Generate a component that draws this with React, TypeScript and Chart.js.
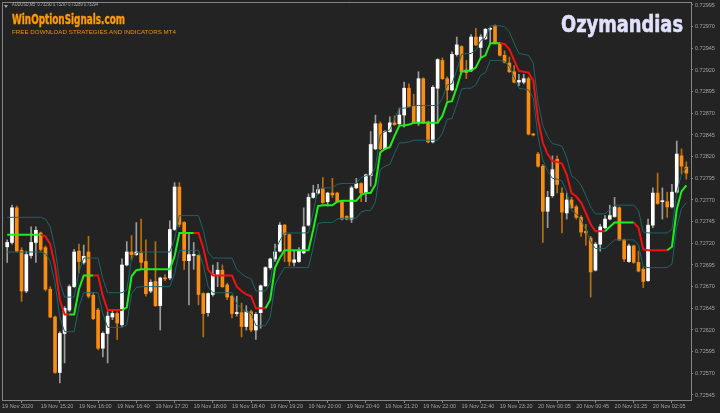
import React, { useEffect, useLayoutEffect, useRef } from 'react';
import { Chart, registerables } from 'chart.js';

Chart.register(...registerables);

// ---- candle data (AUDUSD M5) ----
const openPrices = [
  0.72716,0.72721,0.72761,0.72712,0.72665,0.72706,0.72721,0.72732,0.72715,0.72667,
  0.72635,0.72571,0.72616,0.72643,0.72670,0.72711,0.72698,0.72710,0.72660,0.72643,
  0.72599,0.72616,0.72635,0.72639,0.72626,0.72695,0.72710,0.72707,0.72709,0.72699,
  0.72665,0.72676,0.72648,0.72680,0.72680,0.72736,0.72785,0.72744,0.72700,0.72706,
  0.72706,0.72662,0.72640,0.72661,0.72684,0.72689,0.72672,0.72659,0.72639,0.72640,
  0.72624,0.72641,0.72620,0.72640,0.72671,0.72692,0.72702,0.72711,0.72741,0.72730,
  0.72698,0.72699,0.72709,0.72741,0.72773,0.72778,0.72783,0.72768,0.72778,0.72778,
  0.72768,0.72751,0.72748,0.72784,0.72789,0.72778,0.72798,0.72829,0.72858,0.72829,
  0.72849,0.72859,0.72858,0.72868,0.72899,0.72878,0.72859,0.72910,0.72860,0.72837,
  0.72899,0.72931,0.72910,0.72897,0.72938,0.72947,0.72920,0.72919,0.72958,0.72946,
  0.72956,0.72967,0.72971,0.72951,0.72937,0.72928,0.72918,0.72906,0.72906,0.72910,
  0.72846,0.72823,0.72809,0.72757,0.72775,0.72817,0.72778,0.72755,0.72770,0.72762,
  0.72750,0.72734,0.72726,0.72689,0.72719,0.72738,0.72748,0.72751,0.72761,0.72724,
  0.72699,0.72717,0.72698,0.72690,0.72677,0.72741,0.72778,0.72768,0.72768,0.72762,
  0.72779,0.72821,0.72808,
];
const highPrices = [
  0.72724,0.72764,0.72763,0.72715,0.72711,0.72739,0.72739,0.72733,0.72717,0.72670,
  0.72636,0.72618,0.72647,0.72672,0.72713,0.72719,0.72718,0.72728,0.72663,0.72645,
  0.72618,0.72641,0.72643,0.72641,0.72702,0.72722,0.72729,0.72744,0.72748,0.72724,
  0.72678,0.72722,0.72681,0.72684,0.72746,0.72790,0.72790,0.72745,0.72732,0.72721,
  0.72707,0.72663,0.72663,0.72695,0.72698,0.72695,0.72674,0.72660,0.72659,0.72651,
  0.72648,0.72643,0.72640,0.72672,0.72693,0.72703,0.72719,0.72744,0.72742,0.72731,
  0.72711,0.72715,0.72761,0.72777,0.72787,0.72788,0.72796,0.72779,0.72795,0.72779,
  0.72769,0.72752,0.72786,0.72795,0.72790,0.72800,0.72849,0.72868,0.72860,0.72850,
  0.72866,0.72867,0.72876,0.72906,0.72904,0.72892,0.72918,0.72911,0.72861,0.72902,
  0.72933,0.72934,0.72912,0.72941,0.72958,0.72948,0.72931,0.72961,0.72968,0.72961,
  0.72968,0.72969,0.72972,0.72952,0.72942,0.72935,0.72925,0.72915,0.72915,0.72912,
  0.72847,0.72825,0.72811,0.72780,0.72821,0.72821,0.72784,0.72778,0.72773,0.72764,
  0.72752,0.72742,0.72728,0.72721,0.72742,0.72752,0.72764,0.72773,0.72762,0.72725,
  0.72719,0.72718,0.72711,0.72692,0.72748,0.72784,0.72801,0.72784,0.72779,0.72788,
  0.72838,0.72829,0.72814,
];
const lowPrices = [
  0.72698,0.72719,0.72710,0.72653,0.72663,0.72703,0.72698,0.72711,0.72665,0.72634,
  0.72570,0.72559,0.72582,0.72641,0.72669,0.72686,0.72696,0.72657,0.72632,0.72597,
  0.72589,0.72582,0.72632,0.72609,0.72624,0.72694,0.72701,0.72706,0.72690,0.72659,
  0.72663,0.72647,0.72620,0.72677,0.72678,0.72735,0.72739,0.72690,0.72649,0.72690,
  0.72649,0.72612,0.72636,0.72659,0.72670,0.72669,0.72655,0.72634,0.72636,0.72612,
  0.72620,0.72618,0.72609,0.72622,0.72670,0.72690,0.72699,0.72710,0.72699,0.72694,
  0.72694,0.72698,0.72708,0.72740,0.72772,0.72777,0.72766,0.72763,0.72773,0.72767,
  0.72747,0.72747,0.72744,0.72783,0.72768,0.72768,0.72786,0.72828,0.72828,0.72828,
  0.72848,0.72856,0.72856,0.72854,0.72877,0.72858,0.72856,0.72858,0.72836,0.72836,
  0.72859,0.72909,0.72885,0.72896,0.72936,0.72917,0.72910,0.72918,0.72948,0.72935,
  0.72955,0.72950,0.72950,0.72936,0.72928,0.72917,0.72905,0.72902,0.72904,0.72845,
  0.72844,0.72808,0.72721,0.72738,0.72773,0.72778,0.72732,0.72748,0.72760,0.72748,
  0.72728,0.72718,0.72658,0.72688,0.72711,0.72737,0.72747,0.72750,0.72723,0.72699,
  0.72698,0.72697,0.72687,0.72669,0.72676,0.72738,0.72765,0.72748,0.72750,0.72761,
  0.72778,0.72800,0.72794,
];
const closePrices = [
  0.72721,0.72761,0.72711,0.72665,0.72707,0.72721,0.72735,0.72713,0.72667,0.72635,
  0.72571,0.72616,0.72645,0.72670,0.72710,0.72699,0.72705,0.72659,0.72633,0.72599,
  0.72616,0.72636,0.72639,0.72628,0.72695,0.72710,0.72707,0.72710,0.72698,0.72662,
  0.72675,0.72648,0.72680,0.72679,0.72736,0.72785,0.72742,0.72700,0.72707,0.72707,
  0.72661,0.72639,0.72662,0.72684,0.72689,0.72670,0.72658,0.72639,0.72640,0.72624,
  0.72641,0.72620,0.72638,0.72671,0.72692,0.72702,0.72710,0.72741,0.72730,0.72699,
  0.72701,0.72711,0.72739,0.72773,0.72778,0.72782,0.72767,0.72778,0.72776,0.72768,
  0.72748,0.72748,0.72784,0.72789,0.72778,0.72799,0.72834,0.72858,0.72829,0.72849,
  0.72859,0.72857,0.72868,0.72899,0.72878,0.72859,0.72910,0.72859,0.72837,0.72900,
  0.72932,0.72910,0.72897,0.72938,0.72949,0.72918,0.72917,0.72958,0.72949,0.72958,
  0.72967,0.72968,0.72951,0.72937,0.72929,0.72918,0.72906,0.72908,0.72910,0.72846,
  0.72845,0.72809,0.72757,0.72773,0.72805,0.72788,0.72756,0.72770,0.72761,0.72750,
  0.72733,0.72732,0.72687,0.72719,0.72739,0.72748,0.72752,0.72762,0.72724,0.72702,
  0.72717,0.72698,0.72688,0.72676,0.72741,0.72778,0.72766,0.72769,0.72762,0.72779,
  0.72823,0.72809,0.72801,
];

// ---- Ozymandias indicator ----
const midLine = [
  0.72730,0.72730,0.72730,0.72730,0.72730,0.72730,0.72730,0.72730,0.72728,0.72719,
  0.72694,0.72655,0.72638,0.72638,0.72638,0.72667,0.72683,0.72683,0.72683,0.72683,
  0.72659,0.72643,0.72643,0.72643,0.72643,0.72646,0.72682,0.72689,0.72690,0.72690,
  0.72690,0.72690,0.72690,0.72690,0.72690,0.72705,0.72732,0.72732,0.72732,0.72732,
  0.72732,0.72715,0.72690,0.72683,0.72683,0.72683,0.72683,0.72683,0.72670,0.72665,
  0.72661,0.72659,0.72645,0.72645,0.72645,0.72655,0.72692,0.72703,0.72712,0.72712,
  0.72712,0.72712,0.72712,0.72712,0.72736,0.72763,0.72764,0.72764,0.72764,0.72768,
  0.72769,0.72769,0.72769,0.72769,0.72776,0.72778,0.72778,0.72788,0.72825,0.72829,
  0.72831,0.72844,0.72856,0.72856,0.72857,0.72859,0.72859,0.72859,0.72859,0.72859,
  0.72859,0.72867,0.72883,0.72884,0.72900,0.72918,0.72919,0.72919,0.72923,0.72934,
  0.72937,0.72951,0.72951,0.72951,0.72950,0.72944,0.72931,0.72919,0.72918,0.72917,
  0.72908,0.72863,0.72836,0.72823,0.72815,0.72814,0.72812,0.72799,0.72778,0.72774,
  0.72767,0.72755,0.72742,0.72734,0.72734,0.72734,0.72739,0.72744,0.72744,0.72744,
  0.72744,0.72744,0.72738,0.72713,0.72712,0.72712,0.72712,0.72712,0.72712,0.72716,
  0.72759,0.72780,0.72787,
];
const upperBand = [
  0.72750,0.72750,0.72750,0.72750,0.72750,0.72750,0.72750,0.72750,0.72748,0.72739,
  0.72714,0.72675,0.72658,0.72658,0.72658,0.72687,0.72703,0.72703,0.72703,0.72703,
  0.72679,0.72663,0.72663,0.72663,0.72663,0.72666,0.72702,0.72709,0.72710,0.72710,
  0.72710,0.72710,0.72710,0.72710,0.72710,0.72725,0.72752,0.72752,0.72752,0.72752,
  0.72752,0.72735,0.72710,0.72703,0.72703,0.72703,0.72703,0.72703,0.72690,0.72685,
  0.72681,0.72679,0.72665,0.72665,0.72665,0.72675,0.72712,0.72723,0.72732,0.72732,
  0.72732,0.72732,0.72732,0.72732,0.72756,0.72783,0.72784,0.72784,0.72784,0.72788,
  0.72789,0.72789,0.72789,0.72789,0.72796,0.72798,0.72798,0.72808,0.72845,0.72849,
  0.72851,0.72864,0.72876,0.72876,0.72877,0.72879,0.72879,0.72879,0.72879,0.72879,
  0.72879,0.72887,0.72903,0.72904,0.72920,0.72938,0.72939,0.72939,0.72943,0.72954,
  0.72957,0.72971,0.72971,0.72971,0.72970,0.72964,0.72951,0.72939,0.72938,0.72937,
  0.72928,0.72883,0.72856,0.72843,0.72835,0.72834,0.72832,0.72819,0.72798,0.72794,
  0.72787,0.72775,0.72762,0.72754,0.72754,0.72754,0.72759,0.72764,0.72764,0.72764,
  0.72764,0.72764,0.72758,0.72733,0.72732,0.72732,0.72732,0.72732,0.72732,0.72736,
  0.72779,0.72800,0.72807,
];
const lowerBand = [
  0.72710,0.72710,0.72710,0.72710,0.72710,0.72710,0.72710,0.72710,0.72708,0.72699,
  0.72674,0.72635,0.72618,0.72618,0.72618,0.72647,0.72663,0.72663,0.72663,0.72663,
  0.72639,0.72623,0.72623,0.72623,0.72623,0.72626,0.72662,0.72669,0.72670,0.72670,
  0.72670,0.72670,0.72670,0.72670,0.72670,0.72685,0.72712,0.72712,0.72712,0.72712,
  0.72712,0.72695,0.72670,0.72663,0.72663,0.72663,0.72663,0.72663,0.72650,0.72645,
  0.72641,0.72639,0.72625,0.72625,0.72625,0.72635,0.72672,0.72683,0.72692,0.72692,
  0.72692,0.72692,0.72692,0.72692,0.72716,0.72743,0.72744,0.72744,0.72744,0.72748,
  0.72749,0.72749,0.72749,0.72749,0.72756,0.72758,0.72758,0.72768,0.72805,0.72809,
  0.72811,0.72824,0.72836,0.72836,0.72837,0.72839,0.72839,0.72839,0.72839,0.72839,
  0.72839,0.72847,0.72863,0.72864,0.72880,0.72898,0.72899,0.72899,0.72903,0.72914,
  0.72917,0.72931,0.72931,0.72931,0.72930,0.72924,0.72911,0.72899,0.72898,0.72897,
  0.72888,0.72843,0.72816,0.72803,0.72795,0.72794,0.72792,0.72779,0.72758,0.72754,
  0.72747,0.72735,0.72722,0.72714,0.72714,0.72714,0.72719,0.72724,0.72724,0.72724,
  0.72724,0.72724,0.72718,0.72693,0.72692,0.72692,0.72692,0.72692,0.72692,0.72696,
  0.72739,0.72760,0.72767,
];
// bar ranges [from, to) where the middle line is in a down trend (red)
const downTrendRanges = [[7, 13], [18, 24], [39, 54], [103, 125], [131, 138]];

// ---- axes ----
const yTickValues = [
  0.72545, 0.7257, 0.72595, 0.7262, 0.72645, 0.7267, 0.72695, 0.7272, 0.72745, 0.7277,
  0.72795, 0.7282, 0.72845, 0.7287, 0.72895, 0.7292, 0.72945, 0.7297, 0.72995,
];
const xTickBars = [7, 15, 23, 31, 39, 47, 55, 63, 71, 79, 87, 95, 103, 111, 119, 127, 135];
const xTickLabels = [
  '19 Nov 2020', '19 Nov 15:20', '19 Nov 16:00', '19 Nov 16:40', '19 Nov 17:20', '19 Nov 18:00',
  '19 Nov 18:40', '19 Nov 19:20', '19 Nov 20:00', '19 Nov 20:40', '19 Nov 21:20', '19 Nov 22:00',
  '19 Nov 22:40', '19 Nov 23:20', '20 Nov 00:05', '20 Nov 00:45', '20 Nov 01:25', '20 Nov 02:05',
];
const headerText = 'AUDUSD,M5  0.73290 0.73297 0.73289 0.73294';
const brandText = 'WinOptionSignals.com';
const brandSubText = 'FREE DOWNLOAD STRATEGIES AND INDICATORS MT4';
const indicatorName = 'Ozymandias';

// ---- styles ----
const BG = '#232323';
const FRAME = '#858585';
const LABEL = '#a4a4a4';
const BULL = '#ffffff';
const BEAR = '#fb8c12';
const WICK_BULL = '#9c9c9c';
const WICK_BEAR = '#b8700f';
const GREEN = '#1eee1e';
const RED = '#f01212';
const BAND = '#1d6468';
const AXIS_FONT = { family: '"Liberation Sans", Arial, sans-serif', size: 5.5 };

const isDownAt = (i: number) => downTrendRanges.some(([a, b]) => i >= a && i < b);

type FitProps = {
  text: string; left: number; top: number; width: number; size: number;
  color: string; family: string; weight?: number | string; stroke?: string;
};
function FitText({ text, left, top, width, size, color, family, weight = 'normal', stroke }: FitProps) {
  const ref = useRef<HTMLSpanElement>(null);
  useLayoutEffect(() => {
    const el = ref.current;
    if (!el) return;
    el.style.transform = 'none';
    const w = el.getBoundingClientRect().width;
    if (w > 0) el.style.transform = `scaleX(${width / w})`;
  }, [text, width, size, family]);
  return (
    <span
      ref={ref}
      style={{
        position: 'absolute', left, top, display: 'block', fontSize: size, lineHeight: `${size}px`,
        fontFamily: family, fontWeight: weight as any, color, whiteSpace: 'pre',
        transformOrigin: '0 0', WebkitTextStroke: stroke,
      }}
    >
      {text}
    </span>
  );
}

export default function App() {
  const canvasRef = useRef<HTMLCanvasElement>(null);

  useEffect(() => {
    document.body.style.margin = '0';
    const canvas = canvasRef.current;
    if (!canvas) return;
    const idx = closePrices.map((_, i) => i);
    const up = idx.map((i) => closePrices[i] >= openPrices[i]);

    const framePlugin = {
      id: 'mtFrame',
      beforeDraw(chart: any) {
        const { ctx, width, height } = chart;
        ctx.save();
        ctx.fillStyle = BG;
        ctx.fillRect(0, 0, width, height);
        ctx.restore();
      },
      afterDraw(chart: any) {
        const { ctx, chartArea: a } = chart;
        ctx.save();
        ctx.strokeStyle = FRAME;
        ctx.lineWidth = 1;
        ctx.beginPath();
        ctx.moveTo(Math.round(a.left) + 0.5, a.bottom);
        ctx.lineTo(Math.round(a.left) + 0.5, Math.round(a.top) + 0.5);
        ctx.lineTo(a.right, Math.round(a.top) + 0.5);
        ctx.stroke();
        ctx.restore();
      },
    };

    const chart = new Chart(canvas, {
      type: 'bar',
      data: {
        datasets: [
          {
            type: 'line', label: 'Ozymandias', order: 1,
            data: idx.map((i) => ({ x: i, y: midLine[i] })),
            borderColor: GREEN, borderWidth: 2, pointRadius: 0, tension: 0,
            segment: { borderColor: (ctx: any) => (isDownAt(ctx.p0DataIndex) ? RED : GREEN) },
          } as any,
          {
            type: 'line', label: 'upper', order: 2,
            data: idx.map((i) => ({ x: i, y: upperBand[i] })),
            borderColor: BAND, borderWidth: 1, pointRadius: 0, tension: 0,
          } as any,
          {
            type: 'line', label: 'lower', order: 2,
            data: idx.map((i) => ({ x: i, y: lowerBand[i] })),
            borderColor: BAND, borderWidth: 1, pointRadius: 0, tension: 0,
          } as any,
          {
            type: 'bar', label: 'body', order: 3,
            data: idx.map((i) => ({ x: i, y: [openPrices[i], closePrices[i]] })),
            backgroundColor: idx.map((i) => (up[i] ? BULL : BEAR)),
            barThickness: 3, grouped: false, minBarLength: 1, borderWidth: 0,
          } as any,
          {
            type: 'bar', label: 'wick', order: 4,
            data: idx.map((i) => ({ x: i, y: [lowPrices[i], highPrices[i]] })),
            backgroundColor: idx.map((i) => (up[i] ? WICK_BULL : WICK_BEAR)),
            barThickness: 1, grouped: false, minBarLength: 1, borderWidth: 0,
          } as any,
        ],
      },
      options: {
        responsive: false,
        animation: false,
        devicePixelRatio: 1,
        layout: { padding: { left: 2, top: 2, right: 0, bottom: 0 } },
        plugins: { legend: { display: false }, tooltip: { enabled: false }, title: { display: false } },
        scales: {
          x: {
            type: 'linear', min: -1.087, max: 142.98, offset: false,
            afterBuildTicks: (s: any) => {
              s.ticks = [{ value: s.min }, ...xTickBars.map((v) => ({ value: v }))];
            },
            afterFit: (s: any) => { s.height = 13; s.paddingLeft = 0; s.paddingRight = 0; },
            ticks: {
              callback: (_v: any, i: number) => xTickLabels[i],
              align: 'start', maxRotation: 0, minRotation: 0, autoSkip: false, padding: 0,
              color: LABEL, font: AXIS_FONT,
            },
            grid: { display: true, drawOnChartArea: false, drawTicks: true, tickLength: 3, color: FRAME },
            border: { display: true, color: FRAME, width: 1 },
          },
          y: {
            type: 'linear', position: 'right', min: 0.7253923, max: 0.7299846,
            afterBuildTicks: (s: any) => { s.ticks = yTickValues.map((v) => ({ value: v })); },
            afterFit: (s: any) => { s.width = 29; s.paddingTop = 0; s.paddingBottom = 0; },
            ticks: {
              callback: (v: any) => Number(v).toFixed(5),
              autoSkip: false, padding: 2, color: LABEL, font: AXIS_FONT,
            },
            grid: { display: true, drawOnChartArea: false, drawTicks: true, tickLength: 2, color: FRAME },
            border: { display: true, color: FRAME, width: 1 },
          },
        },
      } as any,
      plugins: [framePlugin],
    });
    return () => chart.destroy();
  }, []);

  return (
    <div style={{ position: 'fixed', left: 0, top: 0, width: 720, height: 413, background: BG, overflow: 'hidden' }}>
      <canvas ref={canvasRef} width={720} height={413} style={{ position: 'absolute', left: 0, top: 0, width: 720, height: 413 }} />
      <div style={{
        position: 'absolute', left: 3.5, top: 4.5, width: 0, height: 0,
        borderLeft: '2.5px solid transparent', borderRight: '2.5px solid transparent', borderTop: '3px solid #a0a0a0',
      }} />
      <FitText text={headerText} left={11.7} top={3.2} width={86} size={4.9} color="#b4b4b4"
        family='"Liberation Sans", Arial, sans-serif' />
      <FitText text={brandText} left={11.7} top={11.7} width={113} size={14.5} color="#ff9a00"
        family='"DejaVu Sans Condensed", "DejaVu Sans", sans-serif' weight="bold" stroke="0.4px #ff9a00" />
      <FitText text={brandSubText} left={11.7} top={30.3} width={164} size={5.2} color="#ec920c"
        family='"Liberation Sans", Arial, sans-serif' />
      <FitText text={indicatorName} left={560.7} top={13.3} width={122} size={23.7} color="#dfe0fa"
        family='"DejaVu Sans Condensed", "DejaVu Sans", sans-serif' weight="bold" stroke="0.6px #dfe0fa" />
    </div>
  );
}
